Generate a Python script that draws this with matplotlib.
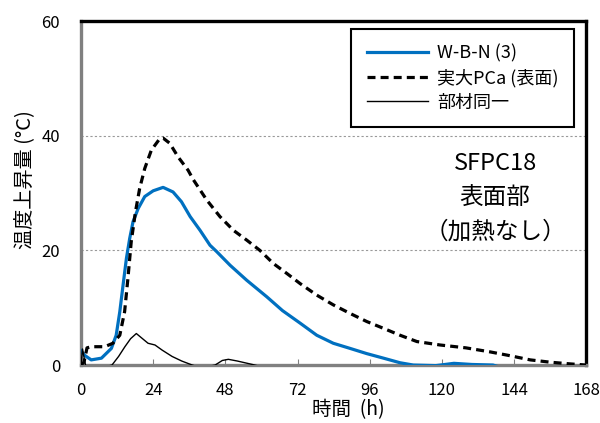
import matplotlib
matplotlib.use("Agg")
import matplotlib.pyplot as plt

plt.rcParams['font.family'] = ['Noto Sans CJK JP', 'DejaVu Sans']

# W-B-N (3)
wbn_h = [0, 1.2, 3.4, 6.8, 10.1, 11.7, 12.9, 14.0, 15.1, 16.2, 17.3, 19.0, 21.2, 24.0,
         27.3, 30.6, 33.4, 36.3, 39.6, 42.9, 45.1, 49.6, 55.1, 61.8, 67.0, 72.9,
         78.4, 83.9, 89.5, 95.0, 100.6, 106.1, 110.5, 118, 124, 130, 137, 140]
wbn_t = [2.5, 1.7, 0.9, 1.2, 2.9, 5.2, 9.3, 14.0, 18.6, 22.1, 25.0, 27.3, 29.4, 30.4,
         31.0, 30.2, 28.5, 25.9, 23.5, 20.9, 19.8, 17.4, 14.8, 11.9, 9.5, 7.3,
         5.2, 3.8, 2.9, 2.0, 1.2, 0.4, 0.0, -0.1, 0.3, 0.1, 0.0, -0.5]

# 実大PCa (表面)
pca_h = [0, 1, 2, 3.4, 7.9, 10.6, 12.9, 14.5, 15.6, 16.7, 18.1, 19.5, 21.2, 23.4, 26.2,
         27.3, 29.5, 32.3, 35.6, 37.4, 41.8, 46.2, 50.7, 55.1, 59.5, 64.0, 68.4,
         72.9, 78.4, 83.9, 89.5, 95.0, 100.6, 106.1, 111.7, 119.4, 128, 136, 142,
         149.4, 156, 162.7, 168]
pca_t = [0, 0.5, 3.0, 3.2, 3.2, 3.8, 5.2, 9.3, 15.1, 21.5, 26.7, 30.8, 34.3, 37.5, 39.5,
         39.6, 38.7, 36.3, 34.0, 32.3, 28.8, 25.9, 23.5, 21.8, 20.0, 17.7, 16.0,
         14.2, 12.2, 10.5, 9.0, 7.6, 6.4, 5.2, 4.1, 3.5, 3.0, 2.3, 1.7,
         0.9, 0.5, 0.2, 0.0]

# 部材同一
same_h = [0, 0.5, 1.5, 3, 10.3, 12.5, 14.6, 16.5, 18.4, 20, 22.3, 24.6, 27, 30.3, 33.5,
          37, 40, 44.6, 47, 49, 52, 57, 60]
same_t = [0, 2.8, 0, -1, 0, 1.5, 3.2, 4.6, 5.5, 4.8, 3.8, 3.5, 2.6, 1.5, 0.7,
          0, -0.5, 0, 0.8, 1.0, 0.7, 0.1, -0.3]

x_ticks = [0, 24, 48, 72, 96, 120, 144, 168]
y_ticks = [0, 20, 40, 60]

fig = plt.figure(figsize=(6, 4.23), dpi=100)
ax = fig.add_axes([0.135, 0.137, 0.842, 0.813])

ax.plot(wbn_h, wbn_t, color="#0070C0", lw=2.3, label="W-B-N (3)", zorder=3)
ax.plot(pca_h, pca_t, color="black", lw=2.3, dashes=(2.5, 1.6), label="実大PCa (表面)", zorder=4)
ax.plot(same_h, same_t, color="black", lw=1.0, label="部材同一", zorder=3)

ax.set_xlim(0, 168)
ax.set_ylim(0, 60)
ax.set_xticks(x_ticks)
ax.set_yticks(y_ticks)
ax.yaxis.grid(True, color="#999999", lw=0.8, linestyle=(0, (2, 2)))
ax.set_axisbelow(True)

for s in ['left', 'bottom']:
    ax.spines[s].set_color("#808080")
    ax.spines[s].set_linewidth(2.4)
for s in ['top', 'right']:
    ax.spines[s].set_color("black")
    ax.spines[s].set_linewidth(2.4)

ax.tick_params(axis='x', direction='in', length=4, color="#808080", labelsize=12, pad=12)
ax.tick_params(axis='y', length=0, labelsize=12, pad=15)

fig.text(348 / 600, 1 - 410 / 423, "時間  (h)", fontsize=14, ha="center", va="center")
fig.text(25 / 600, 1 - 180 / 423, "温度上昇量 (°C)", fontsize=14.5, rotation=90,
         ha="center", va="center")

leg = ax.legend(loc="upper right", bbox_to_anchor=(0.976, 0.977), fontsize=13,
                handlelength=3.4, frameon=True, fancybox=False, framealpha=1,
                edgecolor="black", borderpad=0.85, labelspacing=0.35, handletextpad=0.5,
                borderaxespad=0)
leg.get_frame().set_linewidth(1.5)

ax.text(0.82, 0.587, "SFPC18", transform=ax.transAxes, ha="center", va="center", fontsize=17)
ax.text(0.82, 0.485, "表面部", transform=ax.transAxes, ha="center", va="center", fontsize=17)
ax.text(0.82, 0.387, "（加熱なし）", transform=ax.transAxes, ha="center", va="center", fontsize=17)

fig.savefig("out.png", dpi=100)
